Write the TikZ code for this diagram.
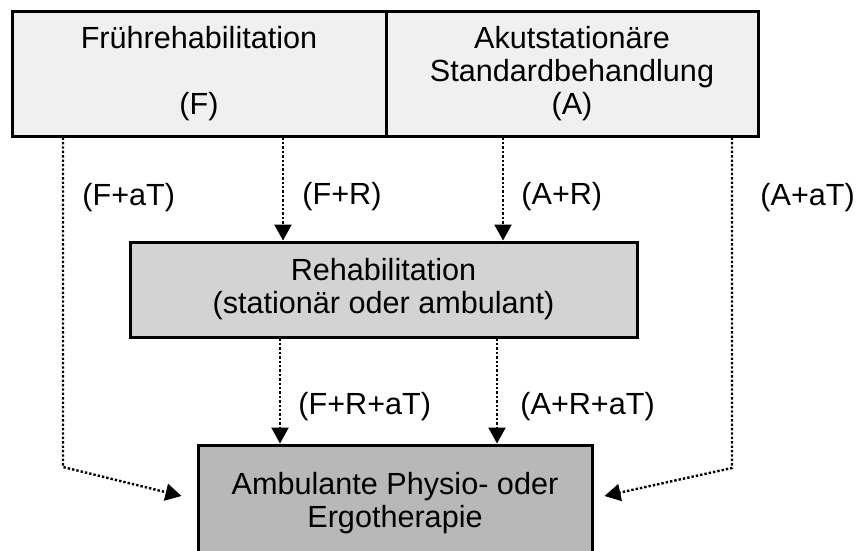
\documentclass[tikz,border=0pt]{standalone}
\usepackage{fontspec}
\setmainfont{Liberation Sans}
\usetikzlibrary{arrows.meta}
\definecolor{fruehgray}{HTML}{F0F0F0}
\definecolor{rehagray}{HTML}{D3D3D3}
\definecolor{ambugray}{HTML}{B8B8B8}
\newcommand{\diagfont}{\fontsize{15.3}{16.5}\selectfont}
\tikzset{% common styles of the treatment pathway boxes
  stage/.style     = {shape=rectangle, draw, line width=1.5pt,
                      align=center, inner sep=0pt, font=\diagfont},
  acute/.style     = {stage, fill=fruehgray, minimum height=62pt},
  reha/.style      = {stage, fill=rehagray, minimum width=253.5pt,
                      minimum height=47.5pt},
  ambu/.style      = {stage, fill=ambugray, minimum width=197pt,
                      minimum height=58pt},
  pathway/.style   = {line width=1.2pt, dash pattern=on 1.2pt off 1pt,
                      -{Triangle[width=8.5pt,length=8pt]}},
  pathlabel/.style = {anchor=base west, inner sep=0pt, font=\diagfont},
}
\begin{document}
\begin{tikzpicture}[x=0.5pt, y=-0.5pt]
  \clip (0,0) rectangle (856,551);
  % boxes
  \node [acute, minimum width=187pt] (F) at (199,74)
        {Frührehabilitation\\~\\(F)};
  \node [acute, minimum width=186pt] (A) at (572,74)
        {Akutstationäre\\Standardbehandlung\\(A)};
  \node [reha] (R) at (383.5,289.5)
        {Rehabilitation\\(stationär oder ambulant)};
  \node [ambu] (E) at (395,503)
        {Ambulante Physio- oder\\Ergotherapie};
  % bends and ends of the outer paths
  \coordinate (lbend) at (63,467);
  \coordinate (rbend) at (732,468);
  \coordinate (ltip)  at ([shift={(-15,-7)}]E.west);
  \coordinate (rtip)  at ([shift={(11,-7)}]E.east);
  % paths
  \draw [pathway] (F.south -| 283,0) -- (R.north -| 283,0);
  \draw [pathway] (A.south -| 503,0) -- (R.north -| 503,0);
  \draw [pathway] (R.south -| 280,0) -- (E.north -| 280,0);
  \draw [pathway] (R.south -| 497,0) -- (E.north -| 497,0);
  \draw [pathway] (F.south -| lbend) -- (lbend) -- (ltip);
  \draw [pathway] (A.south -| rbend) -- (rbend) -- (rtip);
  % labels
  \node [pathlabel] (lFaT)  at (82,205)  {(F+aT)};
  \node [pathlabel] (lFR)   at (302,204) {(F+R)};
  \node [pathlabel] (lAR)   at (521,204) {(A+R)};
  \node [pathlabel] (lAaT)  at (760,205) {(A+aT)};
  \node [pathlabel] (lFRaT) at (298,414) {(F+R+aT)};
  \node [pathlabel] (lARaT) at (520,414) {(A+R+aT)};
\end{tikzpicture}
\end{document}
